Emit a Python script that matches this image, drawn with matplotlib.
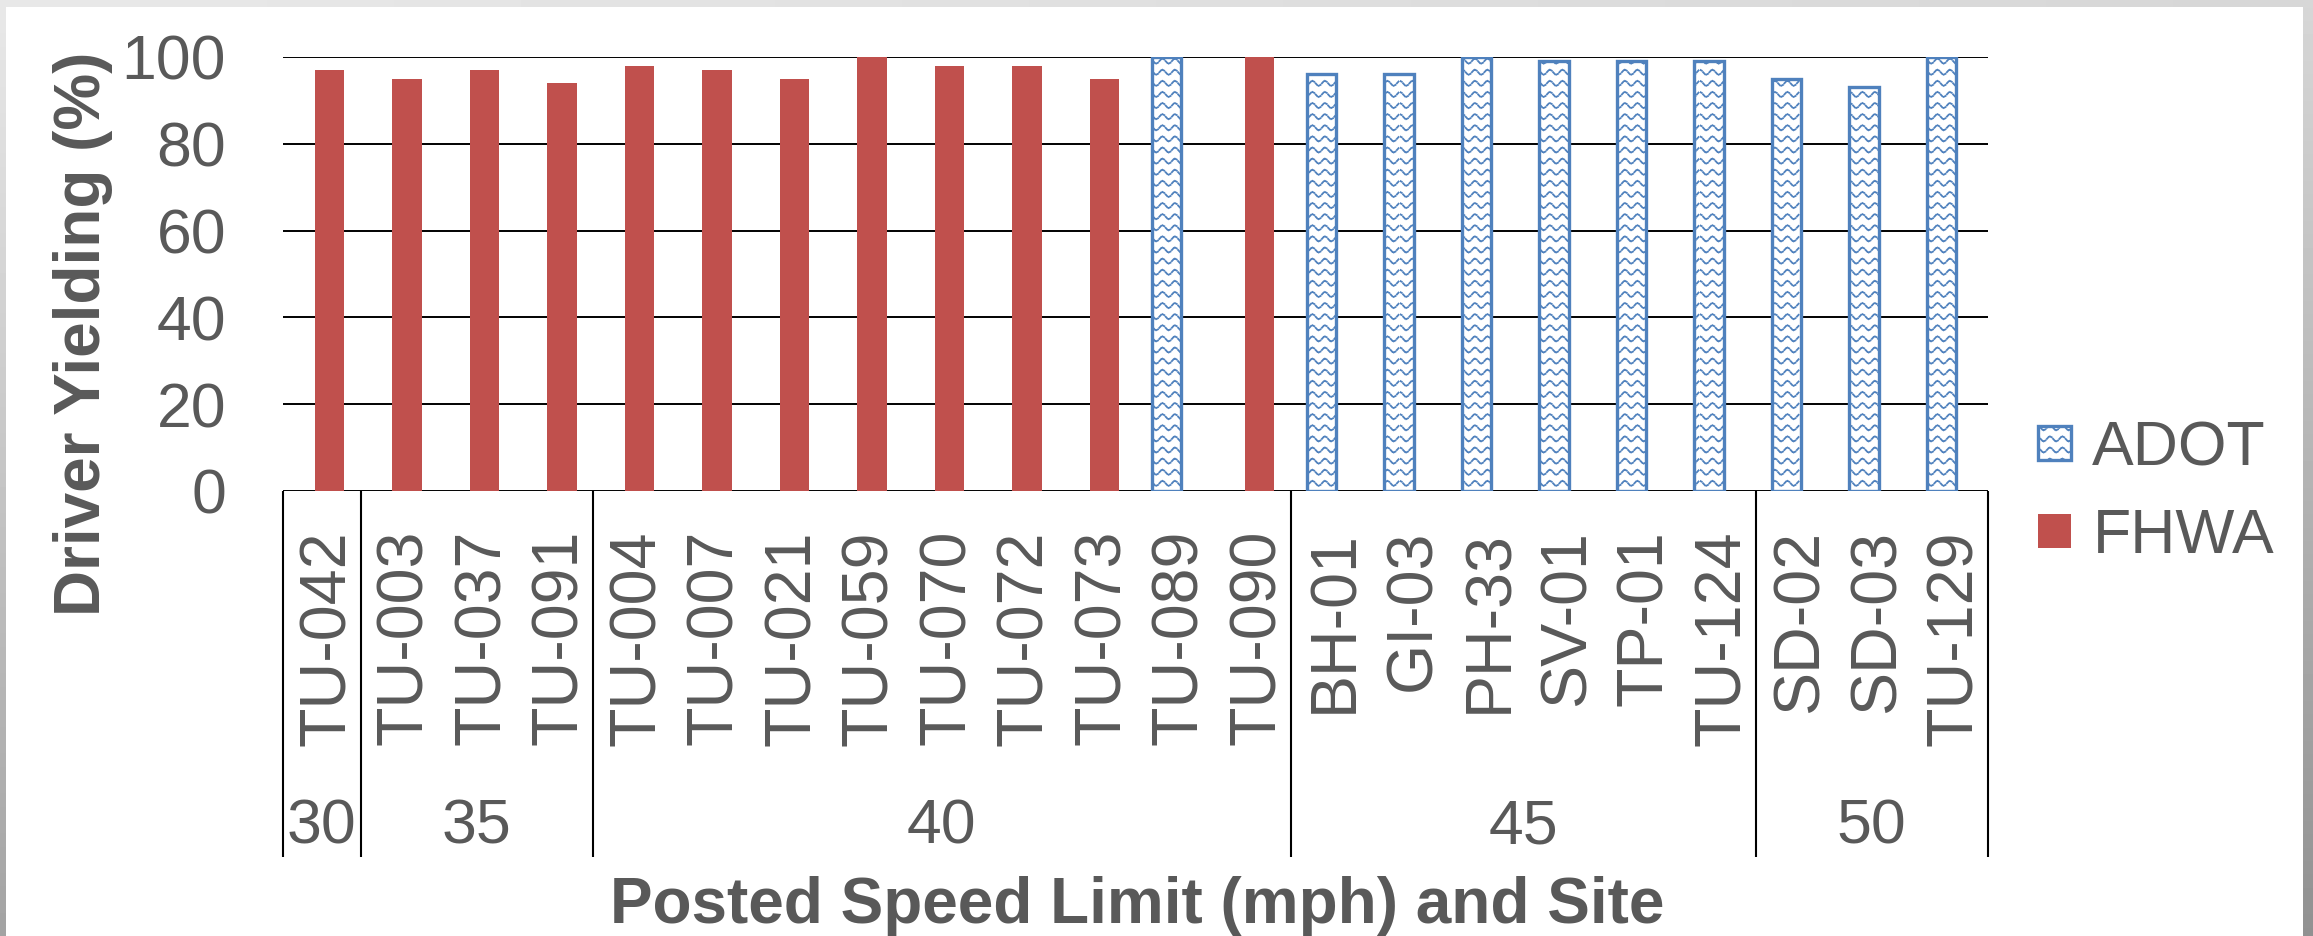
"""Driver yielding by posted speed limit and site, ADOT vs FHWA crossings."""

import warnings

import matplotlib

matplotlib.use("Agg")
import matplotlib.hatch as mhatch
import matplotlib.pyplot as plt
import numpy as np
from matplotlib.patches import Rectangle
from matplotlib.path import Path
from matplotlib.transforms import offset_copy

# custom '~' hatch goes through the (deprecated) hatch validator
warnings.filterwarnings("ignore", message=".*hatch must consist.*")

W, H, DPI = 2313, 936, 100

SITES = [
    "TU-042",
    "TU-003", "TU-037", "TU-091",
    "TU-004", "TU-007", "TU-021", "TU-059", "TU-070", "TU-072", "TU-073", "TU-089", "TU-090",
    "BH-01", "GI-03", "PH-33", "SV-01", "TP-01", "TU-124",
    "SD-02", "SD-03", "TU-129",
]
AGENCY = ["FHWA"] * 11 + ["ADOT", "FHWA"] + ["ADOT"] * 9
YIELDING = [97, 95, 97, 94, 98, 97, 95, 100, 98, 98, 95, 100, 100,
            96, 96, 100, 99, 99, 99, 95, 93, 100]
SPEED_GROUPS = ["30", "35", "40", "45", "50"]
GROUP_SIZES = [1, 3, 9, 6, 3]
SERIES = ["ADOT", "FHWA"]

TEXT = "#595959"
COLORS = {"ADOT": "#4F81BD", "FHWA": "#C0504D"}
FS = 45
FS_SITE = 46.5
FS_TITLE = 46


class WaveHatch(mhatch.HatchPatternBase):
    """Rows of small dashed waves, used when the hatch string contains '~'."""

    waves_per_tile = 8
    dashes_per_wave = 4

    def __init__(self, hatch, density):
        self.num_rows = int(hatch.count("~") * density * 1.5)
        self.num_dashes = self.waves_per_tile * self.dashes_per_wave
        self.num_vertices = self.num_rows * self.num_dashes * 2

    def set_vertices_and_codes(self, vertices, codes):
        step = 1.0 / self.num_rows
        amp = 0.22 * step
        start = np.arange(self.num_dashes) / self.num_dashes
        end = start + 0.55 / self.num_dashes
        xs = np.column_stack([start, end]).ravel()
        ys = amp * np.cos(2 * np.pi * self.waves_per_tile * xs)
        rows = (np.arange(self.num_rows) + 0.5) * step
        vertices[:, 0] = np.tile(xs, self.num_rows)
        vertices[:, 1] = (rows[:, None] + ys[None, :]).ravel()
        codes[0::2] = Path.MOVETO
        codes[1::2] = Path.LINETO


mhatch._hatch_types.append(WaveHatch)

plt.rcParams["font.family"] = ["Liberation Sans", "DejaVu Sans"]
plt.rcParams["hatch.linewidth"] = 1.3

fig = plt.figure(figsize=(W / DPI, H / DPI), dpi=DPI)

# grey shaded frame round the white chart area
bg = fig.add_axes([0, 0, 1, 1], zorder=-10)
gy, gx = np.mgrid[0:1:64j, 0:1:64j]
bg.imshow(0.91 - 0.27 * gy - 0.07 * gx, cmap="gray", vmin=0, vmax=1,
          extent=(0, W, H, 0), aspect="auto", interpolation="bilinear")
bg.add_patch(Rectangle((6, 7), 2303 - 6, H, facecolor="white", edgecolor="none"))
bg.set_xlim(0, W)
bg.set_ylim(H, 0)
bg.axis("off")

# plot area in pixels: x 283..1988, y(100)=57, y(0)=491
ax_left, ax_right, ax_top, ax_bottom = 283, 1988, 57, 491
ax = fig.add_axes([ax_left / W, 1 - ax_bottom / H,
                   (ax_right - ax_left) / W, (ax_bottom - ax_top) / H])
ax.patch.set_alpha(0)


def below_axis(ypx):
    """Axes-fraction y for a pixel row under the plot area."""
    return (ax_bottom - ypx) / (ax_bottom - ax_top)


x = np.arange(len(SITES))
vals = np.array(YIELDING)
agency = np.array(AGENCY)

# clustered bars: ADOT slot sits left of centre, FHWA slot right
shift = {"ADOT": -0.1, "FHWA": 0.1}
for name in SERIES:
    sel = agency == name
    if name == "ADOT":
        ax.bar(x[sel] + shift[name], vals[sel], width=0.375, facecolor="white",
               edgecolor=COLORS[name], linewidth=2.4, hatch="~", label=name,
               zorder=3)
    else:
        ax.bar(x[sel] + shift[name], vals[sel], width=0.375,
               color=COLORS[name], label=name, zorder=3)

ax.set_xlim(-0.5, len(SITES) - 0.5)
ax.set_ylim(0, 100)
ax.set_yticks(range(0, 101, 20))
ax.set_xticks([])
ax.tick_params(axis="y", length=0, pad=41, labelsize=FS, labelcolor=TEXT)
ax.yaxis.grid(True, color="black", linewidth=1.4)
ax.set_axisbelow(True)
for spine in ax.spines.values():
    spine.set_visible(False)

# two-level category axis: site names, then speed-limit groups
xform = ax.get_xaxis_transform()
site_tf = offset_copy(xform, fig=fig, x=0.358 * FS_SITE, units="points")
for xi, site in zip(x, SITES):
    ax.text(xi, below_axis(530), site, transform=site_tf, rotation=90,
            rotation_mode="anchor", ha="right", va="baseline",
            fontsize=FS_SITE, color=TEXT, clip_on=False)

edges = np.concatenate([[0], np.cumsum(GROUP_SIZES)]) - 0.5
ax.vlines(edges, below_axis(857), 0, transform=xform, colors="black",
          linewidth=1.5, clip_on=False)
for label, lo, hi in zip(SPEED_GROUPS, edges[:-1], edges[1:]):
    ax.text((lo + hi) / 2, below_axis(844), label, transform=xform,
            ha="center", va="baseline", fontsize=FS, color=TEXT, clip_on=False)

fig.text(100 / W, 1 - 334 / H, "Driver Yielding (%)", rotation=90,
         rotation_mode="anchor", ha="center", va="baseline",
         fontsize=FS_TITLE, fontweight="bold", color=TEXT)
fig.text(1137 / W, 1 - 923 / H, "Posted Speed Limit (mph) and Site",
         ha="center", va="baseline", fontsize=FS_TITLE, fontweight="bold",
         color=TEXT)

ax.legend(loc="upper left", bbox_to_anchor=(2038 / W, 1 - 419 / H),
          bbox_transform=fig.transFigure, frameon=False, fontsize=FS,
          handlelength=0.53, handleheight=0.47, handletextpad=0.34,
          labelspacing=0.47, borderpad=0, borderaxespad=0, labelcolor=TEXT)

fig.savefig("out.png", dpi=DPI)
